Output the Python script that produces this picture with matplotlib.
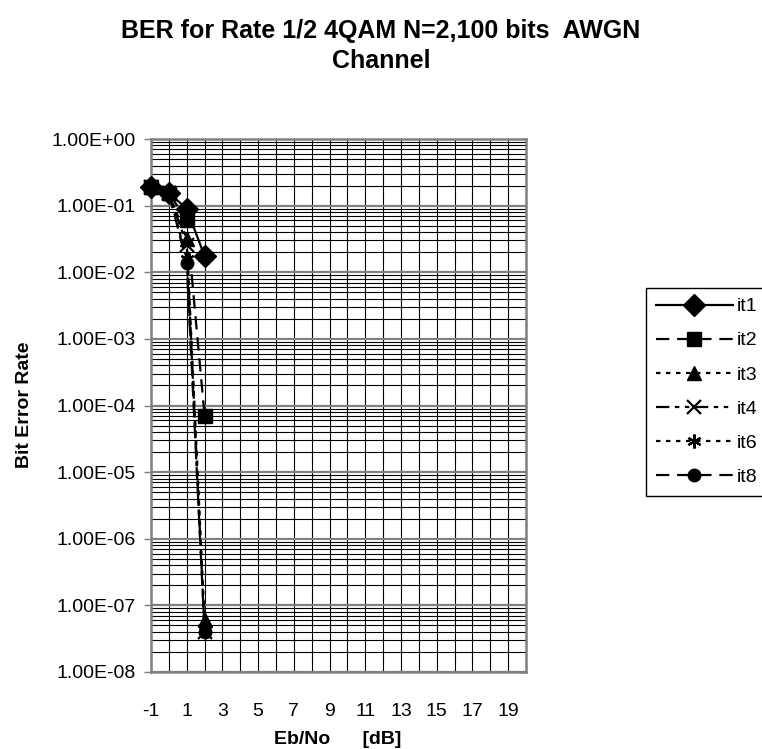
import matplotlib
matplotlib.use("Agg")
import matplotlib.pyplot as plt
import numpy as np
from matplotlib.ticker import LogLocator, FuncFormatter, NullFormatter

plt.rcParams['font.family'] = ['Liberation Sans', 'DejaVu Sans']

# Eb/No in dB
ebno = [-1, 0, 1, 2]
# bit error rate per iteration count
it1 = [0.19, 0.155, 0.09, 0.0175]
it2 = [0.19, 0.155, 0.06, 7.0e-5]
it3 = [0.19, 0.155, 0.032, 6.0e-8]
it4 = [0.19, 0.155, 0.026, 4.0e-8]
it6 = [0.19, 0.155, 0.016, 4.3e-8]
it8 = [0.19, 0.155, 0.014, 4.0e-8]
labels = ['it1', 'it2', 'it3', 'it4', 'it6', 'it8']
xticks = list(range(-1, 20, 2))

fig = plt.figure(figsize=(7.62, 7.49), dpi=100)
ax = fig.add_axes([151/762, 1 - 672/749, 375/762, 533/749])

# grid first so lines sit on top
for v in range(-1, 21):
    ax.axvline(v, color='black', lw=0.8, zorder=1)
for d in range(-8, 1):
    for m in range(2, 10):
        if d < 0:
            ax.axhline(m * 10.0**d, color='black', lw=0.8, zorder=1)
    ax.axhline(10.0**d, color='#808080', lw=1.6, zorder=1)

lw = 1.6
kw = dict(color='black', lw=lw, clip_on=False)
ax.plot(ebno, it1, marker='D', ms=11, label=labels[0], zorder=3, **kw)
ax.plot(ebno, it2, marker='s', ms=10, dashes=(6, 3.5), label=labels[1], zorder=4, **kw)
ax.plot(ebno, it3, marker='^', ms=10, dashes=(2, 2.5), label=labels[2], zorder=3, **kw)
ax.plot(ebno, it4, marker='x', ms=10, mew=1.6, dashes=(6, 2.5, 2, 2.5, 2, 2.5), label=labels[3], zorder=3, **kw)
ax.plot(ebno, it6, marker=(6, 2, 0), ms=10, mew=1.6, dashes=(2, 2.5), label=labels[4], zorder=3, **kw)
ax.plot(ebno, it8, marker='o', ms=9, dashes=(6, 3.5), label=labels[5], zorder=3, **kw)

ax.set_yscale('log')
ax.set_ylim(1e-8, 1)
ax.set_xlim(-1, 20)
ax.yaxis.set_major_locator(LogLocator(base=10, numticks=12))
ax.yaxis.set_minor_formatter(NullFormatter())
ax.yaxis.set_major_formatter(FuncFormatter(lambda v, p: f"{v:.2E}"))
ax.tick_params(axis='y', which='major', direction='out', length=5, width=1, color='#808080', labelsize=14, pad=6)
ax.tick_params(axis='y', which='minor', length=0)
ax.set_xticks(xticks)
ax.set_xticklabels([str(t) for t in xticks])
ax.tick_params(axis='x', which='both', length=0, labelsize=14, pad=22)

for s in ax.spines.values():
    s.set_color('#808080')
    s.set_linewidth(1.8)
    s.set_zorder(2)

fig.text(381/762, 1 - 46/749, "BER for Rate 1/2 4QAM N=2,100 bits  AWGN\nChannel",
         ha='center', va='center', fontsize=18, fontweight='bold', linespacing=1.35)
fig.text(338/762, 1 - 740/749, "Eb/No      [dB]", ha='center', va='center', fontsize=14, fontweight='bold')
fig.text(25/762, 1 - 405/749, "Bit Error Rate", ha='center', va='center', rotation=90,
         fontsize=14, fontweight='bold')

leg = fig.legend(loc='upper left', bbox_to_anchor=(646/762, 1 - 288/749), fontsize=14,
                 handlelength=3.95, handletextpad=0.2, labelspacing=0.85, borderpad=0.5,
                 fancybox=False, framealpha=1, edgecolor='black', borderaxespad=0)
leg.get_frame().set_linewidth(1.0)

fig.savefig('out.png', dpi=100)
